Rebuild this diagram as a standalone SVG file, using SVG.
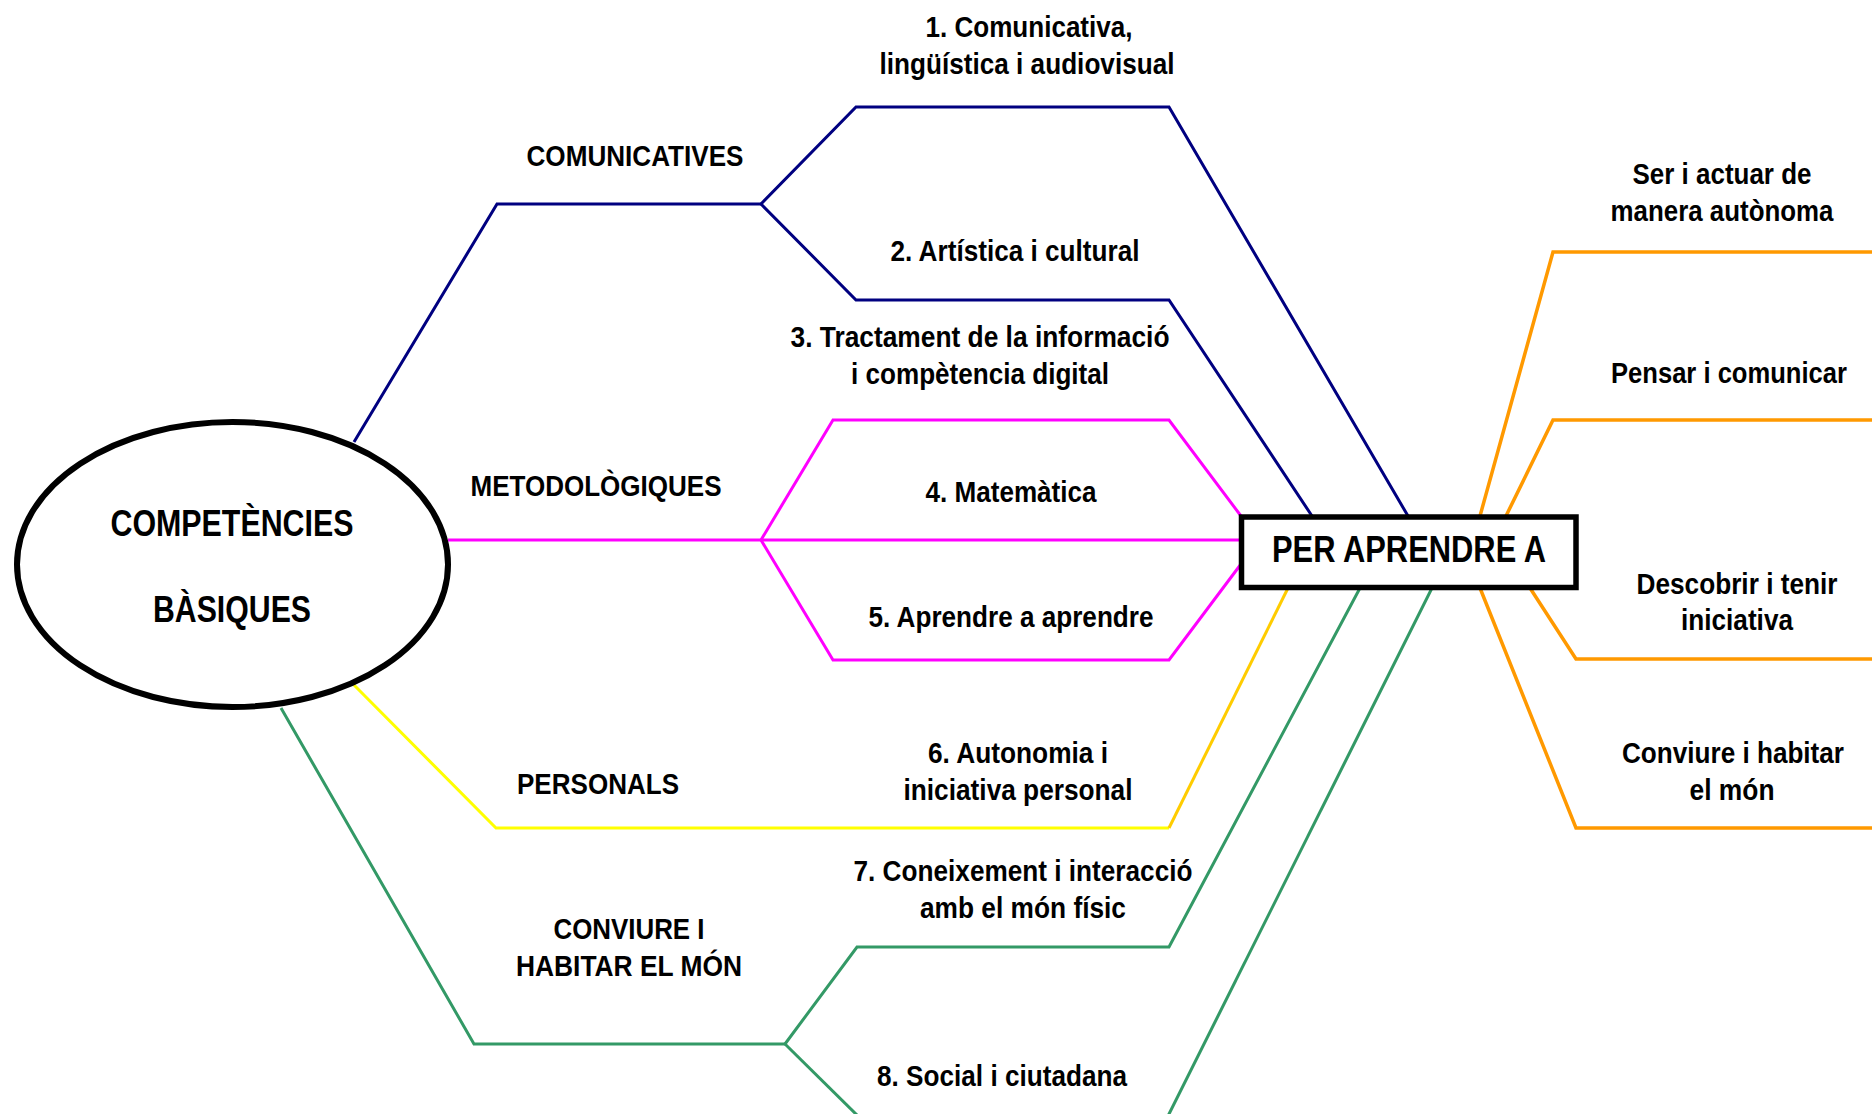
<svg xmlns="http://www.w3.org/2000/svg" width="1872" height="1114" viewBox="0 0 1872 1114">
<style>
text{font-family:"Liberation Sans",Arial,sans-serif;font-weight:bold;fill:#000;text-anchor:middle;font-size:29px}
.big{font-size:36px}
.c{fill:none;stroke-width:3;stroke-linejoin:miter}
.navy{stroke:#000080}
.mag{stroke:#FF00FF}
.yel{stroke:#FFFF00}
.gold{stroke:#FFCC00}
.grn{stroke:#339966}
.org{stroke:#FF9900;stroke-width:3.5}
</style>
<rect width="1872" height="1114" fill="#fff"/>
<g id="connectors">
<polyline class="c navy" points="354,442 497,204 761,204"/>
<polyline class="c navy" points="761,204 856,107 1169,107 1408,516"/>
<polyline class="c navy" points="761,204 856,300 1169,300 1312,516"/>
<polyline class="c mag" points="448,540 761,540 1240,540"/>
<polyline class="c mag" points="761,540 833,420 1169,420 1241,516"/>
<polyline class="c mag" points="761,540 833,660 1169,660 1241,564"/>
<polyline class="c yel" points="354,685 496,828 1169,828"/>
<polyline class="c gold" points="1169,828 1288,588"/>
<polyline class="c grn" points="281,708 474,1044 785,1044"/>
<polyline class="c grn" points="785,1044 857,947 1169,947 1360,588"/>
<polyline class="c grn" points="785,1044 862,1120"/>
<polyline class="c grn" points="1432,588 1166,1120"/>
<polyline class="c org" points="1480,516 1553,252 1872,252"/>
<polyline class="c org" points="1506,516 1553,420 1872,420"/>
<polyline class="c org" points="1530,588 1576,659 1872,659"/>
<polyline class="c org" points="1480,588 1576,828 1872,828"/>
</g>
<g id="node-competencies">
<ellipse cx="232.5" cy="564.5" rx="215.5" ry="142.5" fill="#fff" stroke="#000" stroke-width="6"/>
<text class="big" x="232" y="536" textLength="243" lengthAdjust="spacingAndGlyphs">COMPETÈNCIES</text>
<text class="big" x="232" y="622" textLength="158" lengthAdjust="spacingAndGlyphs">BÀSIQUES</text>
</g>
<g id="node-per-aprendre">
<rect x="1241.5" y="517" width="334.5" height="70.5" fill="#fff" stroke="#000" stroke-width="5.5"/>
<text class="big" x="1409" y="562" textLength="274" lengthAdjust="spacingAndGlyphs">PER APRENDRE A</text>
</g>
<g id="cat-comunicatives"><text x="635" y="166" textLength="217" lengthAdjust="spacingAndGlyphs">COMUNICATIVES</text></g>
<g id="cat-metodologiques"><text x="596" y="496" textLength="251" lengthAdjust="spacingAndGlyphs">METODOLÒGIQUES</text></g>
<g id="cat-personals"><text x="598" y="794" textLength="162" lengthAdjust="spacingAndGlyphs">PERSONALS</text></g>
<g id="cat-conviure">
<text x="629" y="939" textLength="151" lengthAdjust="spacingAndGlyphs">CONVIURE I</text>
<text x="629" y="976" textLength="226" lengthAdjust="spacingAndGlyphs">HABITAR EL MÓN</text>
</g>
<g id="comp-1">
<text x="1029" y="37" textLength="207" lengthAdjust="spacingAndGlyphs">1. Comunicativa,</text>
<text x="1027" y="74" textLength="295" lengthAdjust="spacingAndGlyphs">lingüística i audiovisual</text>
</g>
<g id="comp-2"><text x="1015" y="261" textLength="249" lengthAdjust="spacingAndGlyphs">2. Artística i cultural</text></g>
<g id="comp-3">
<text x="980" y="347" textLength="379" lengthAdjust="spacingAndGlyphs">3. Tractament de la informació</text>
<text x="980" y="384" textLength="258" lengthAdjust="spacingAndGlyphs">i compètencia digital</text>
</g>
<g id="comp-4"><text x="1011" y="502" textLength="171" lengthAdjust="spacingAndGlyphs">4. Matemàtica</text></g>
<g id="comp-5"><text x="1011" y="627" textLength="285" lengthAdjust="spacingAndGlyphs">5. Aprendre a aprendre</text></g>
<g id="comp-6">
<text x="1018" y="763" textLength="180" lengthAdjust="spacingAndGlyphs">6. Autonomia i</text>
<text x="1018" y="800" textLength="229" lengthAdjust="spacingAndGlyphs">iniciativa personal</text>
</g>
<g id="comp-7">
<text x="1023" y="881" textLength="339" lengthAdjust="spacingAndGlyphs">7. Coneixement i interacció</text>
<text x="1023" y="918" textLength="206" lengthAdjust="spacingAndGlyphs">amb el món físic</text>
</g>
<g id="comp-8"><text x="1002" y="1086" textLength="250" lengthAdjust="spacingAndGlyphs">8. Social i ciutadana</text></g>
<g id="aim-ser">
<text x="1722" y="184" textLength="179" lengthAdjust="spacingAndGlyphs">Ser i actuar de</text>
<text x="1722" y="221" textLength="223" lengthAdjust="spacingAndGlyphs">manera autònoma</text>
</g>
<g id="aim-pensar"><text x="1729" y="383" textLength="236" lengthAdjust="spacingAndGlyphs">Pensar i comunicar</text></g>
<g id="aim-descobrir">
<text x="1737" y="594" textLength="201" lengthAdjust="spacingAndGlyphs">Descobrir i tenir</text>
<text x="1737" y="630" textLength="112" lengthAdjust="spacingAndGlyphs">iniciativa</text>
</g>
<g id="aim-conviure">
<text x="1733" y="763" textLength="222" lengthAdjust="spacingAndGlyphs">Conviure i habitar</text>
<text x="1732" y="800" textLength="85" lengthAdjust="spacingAndGlyphs">el món</text>
</g>
</svg>
